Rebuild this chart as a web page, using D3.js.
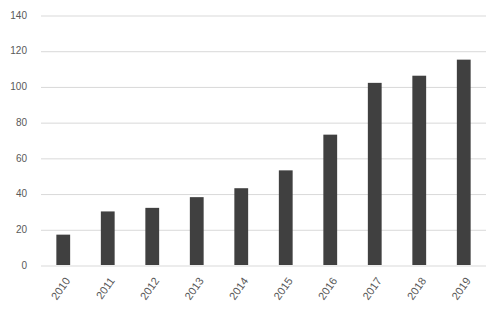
<!DOCTYPE html>
<html>
  <head>
    <meta charset="utf-8">
    <script src="https://d3js.org/d3.v7.min.js"></script>
    <style>
      body { margin: 0; background: #fff; }
      .gridline line { stroke: #d9d9d9; stroke-width: 1; }
      .gridline path { display: none; }
      .axis text { fill: #595959; font-family: "Liberation Sans", Arial, sans-serif; font-size: 10px; }
      .xaxis text { font-size: 11px; }
    </style>
  </head>
  <body>
    <script>
      var years = ["2010", "2011", "2012", "2013", "2014", "2015", "2016", "2017", "2018", "2019"];
      var values = [17, 30, 32, 38, 43, 53, 73, 102, 106, 115];
      var yTicks = [0, 20, 40, 60, 80, 100, 120, 140];

      var margin = {top: 15, right: 13, bottom: 49, left: 41};
      var width = 499 - margin.left - margin.right;
      var height = 314 - margin.top - margin.bottom;

      var svg = d3.select("body").append("svg")
          .attr("width", 499)
          .attr("height", 314)
        .append("g")
          .attr("transform", "translate(" + margin.left + "," + margin.top + ")");

      var x = d3.scaleBand().domain(years).range([0, width]).paddingInner(0.69).paddingOuter(0.345);
      var y = d3.scaleLinear().domain([0, 140]).range([height, 0]);

      // gridlines
      svg.append("g")
          .attr("class", "gridline")
          .call(d3.axisLeft(y).tickValues(yTicks).tickSize(-width).tickFormat(""))
          .selectAll("line").attr("transform", "translate(0,0.5)");

      // y labels
      var yAxis = svg.append("g")
          .attr("class", "axis")
          .call(d3.axisLeft(y).tickValues(yTicks).tickSize(0).tickPadding(14));
      yAxis.select(".domain").remove();

      // bars
      svg.selectAll(".bar")
          .data(values)
        .enter().append("rect")
          .attr("class", "bar")
          .attr("x", function(d, i) { return x(years[i]); })
          .attr("width", x.bandwidth())
          .attr("y", function(d) { return y(d); })
          .attr("height", function(d) { return height - y(d); })
          .style("fill", "#404040");

      // x labels
      var xAxis = svg.append("g")
          .attr("class", "axis xaxis")
          .attr("transform", "translate(0," + height + ")")
          .call(d3.axisBottom(x).tickSize(0));
      xAxis.select(".domain").remove();
      xAxis.selectAll("text")
          .style("text-anchor", "end")
          .attr("dx", 0)
          .attr("dy", 0)
          .attr("transform", "translate(5,14) rotate(-55)");
    </script>
  </body>
</html>
